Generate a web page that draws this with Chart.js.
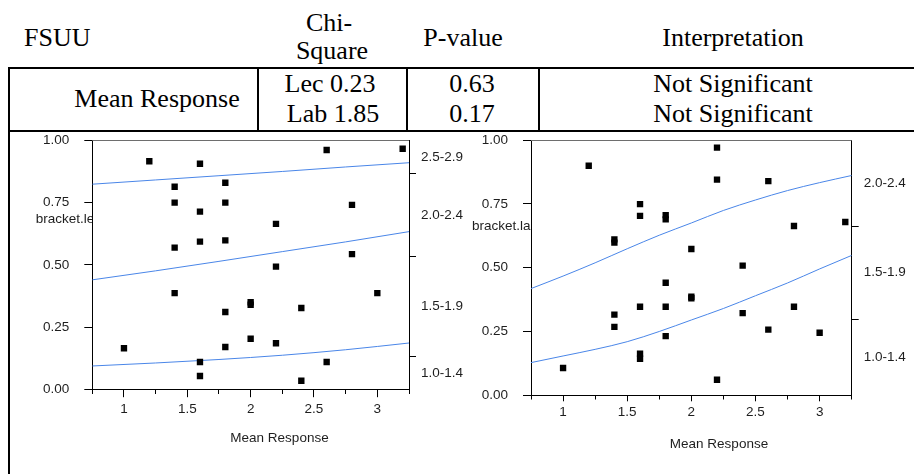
<!DOCTYPE html>
<html>
<head>
<meta charset="utf-8">
<script src="https://cdn.jsdelivr.net/npm/chart.js@4"></script>
<style>
  html, body { margin: 0; padding: 0; background: #fff; }
  body { width: 914px; height: 474px; position: relative; overflow: hidden; }
  .t { position: absolute; font: 26px "Liberation Serif", "Times New Roman", serif; line-height: 30px; color: #000; white-space: nowrap; }
  .c { width: 240px; text-align: center; }
  .ln { position: absolute; background: #000; }
  canvas { position: absolute; }
</style>
</head>
<body>
  <div class="t" style="left:24px; top:23px;">FSUU</div>
  <div class="t c" style="left:209px; top:8px;">Chi-</div>
  <div class="t c" style="left:212px; top:36px;">Square</div>
  <div class="t c" style="left:343px; top:23px;">P-value</div>
  <div class="t c" style="left:613px; top:23px;">Interpretation</div>

  <div class="t c" style="left:37px; top:84px;">Mean Response</div>
  <div class="t c" style="left:210px; top:69px;">Lec 0.23</div>
  <div class="t c" style="left:213px; top:99px;">Lab 1.85</div>
  <div class="t c" style="left:352px; top:69px;">0.63</div>
  <div class="t c" style="left:352px; top:99px;">0.17</div>
  <div class="t c" style="left:613px; top:69px;">Not Significant</div>
  <div class="t c" style="left:613px; top:99px;">Not Significant</div>

  <div class="ln" style="left:8px; top:67px; width:920px; height:2px;"></div>
  <div class="ln" style="left:8px; top:130px; width:920px; height:2px;"></div>
  <div class="ln" style="left:8px; top:67px; width:2px; height:407px;"></div>
  <div class="ln" style="left:257px; top:67px; width:2px; height:65px;"></div>
  <div class="ln" style="left:406px; top:67px; width:2px; height:65px;"></div>
  <div class="ln" style="left:538px; top:67px; width:2px; height:65px;"></div>

  <canvas id="lec-chart" width="462" height="342" style="left:10px; top:132px;"></canvas>
  <canvas id="lab-chart" width="459" height="342" style="left:455px; top:132px;"></canvas>

<script>
// lecture panel: observed points (mean response, proportion)
const lecX = [1.2, 1.6, 1.4, 1.8, 1.4, 1.8, 1.6, 2.2, 2.8, 2.6, 3.2, 1.4, 1.6, 1.8, 2.8,
              2.2, 1.4, 3.0, 2.0, 2.0, 1.8, 2.4, 2.0, 2.2, 1.8, 1.0, 1.6, 2.6, 1.6, 2.4];
const lecY = [0.915, 0.905, 0.813, 0.829, 0.749, 0.749, 0.713, 0.664, 0.740, 0.960, 0.965, 0.569, 0.593, 0.598, 0.543,
              0.493, 0.387, 0.387, 0.350, 0.340, 0.311, 0.327, 0.204, 0.186, 0.171, 0.166, 0.111, 0.111, 0.055, 0.036];
// lecture panel: fitted cumulative curves
const lecCurveX = [0.75, 1.25, 1.75, 2.25, 2.75, 3.25];
const lecCurveTop = [0.823, 0.840, 0.857, 0.874, 0.892, 0.909];
const lecCurveMid = [0.440, 0.476, 0.514, 0.553, 0.592, 0.633];
const lecCurveLow = [0.095, 0.107, 0.121, 0.138, 0.160, 0.187];
const lecCuts = [0.132, 0.533, 0.865];
const lecBands = ["1.0-1.4", "1.5-1.9", "2.0-2.4", "2.5-2.9"];

// lab panel: observed points
const labX = [1.2, 2.2, 2.2, 2.6, 1.6, 1.6, 1.8, 1.8, 2.8, 3.2, 1.4, 1.4, 2.0, 2.4, 1.8,
              2.0, 2.0, 1.4, 1.6, 1.8, 2.4, 2.8, 1.4, 2.6, 3.0, 1.8, 1.6, 1.6, 1.0, 2.2];
const labY = [0.899, 0.970, 0.845, 0.839, 0.749, 0.703, 0.706, 0.689, 0.663, 0.679, 0.611, 0.598, 0.573, 0.508, 0.441,
              0.386, 0.380, 0.316, 0.347, 0.347, 0.322, 0.347, 0.268, 0.257, 0.245, 0.232, 0.163, 0.143, 0.107, 0.061];
// lab panel: fitted cumulative curves
const labCurveX = [0.75, 1.0, 1.25, 1.5, 1.75, 2.0, 2.25, 2.5, 2.75, 3.0, 3.25];
const labCurveTop = [0.418, 0.467, 0.519, 0.574, 0.627, 0.675, 0.724, 0.765, 0.802, 0.833, 0.861];
const labCurveLow = [0.128, 0.154, 0.180, 0.210, 0.250, 0.295, 0.340, 0.390, 0.440, 0.495, 0.548];
const labCuts = [0.298, 0.663];
const labBands = ["1.0-1.4", "1.5-1.9", "2.0-2.4"];

const BLUE = "rgb(74, 134, 232)";
const TEXT = "#1e1e1e";
const FONT = '13.5px "Liberation Sans", Arial, sans-serif';

Chart.defaults.font.family = '"Liberation Sans", Arial, sans-serif';
Chart.defaults.font.size = 13.5;
Chart.defaults.color = TEXT;

// horizontal y-axis title cut off at the plot edge, x-axis title, grey top frame
const panelText = {
    id: "panelText",
    afterDraw(chart, args, opts) {
        const { ctx, chartArea } = chart;
        ctx.save();
        ctx.font = FONT;
        ctx.fillStyle = TEXT;
        ctx.textBaseline = "middle";
        ctx.textAlign = "center";
        ctx.fillText("Mean Response", opts.xTitleX, opts.xTitleY);
        ctx.beginPath();
        ctx.rect(0, 0, chartArea.left, chart.height);
        ctx.clip();
        ctx.textAlign = "left";
        ctx.fillText(opts.text, opts.x, opts.y);
        ctx.restore();

        ctx.save();
        ctx.strokeStyle = "#6e6e6e";
        ctx.lineWidth = 1;
        ctx.beginPath();
        ctx.moveTo(chartArea.left, chartArea.top + 0.5);
        ctx.lineTo(chartArea.right, chartArea.top + 0.5);
        ctx.stroke();
        ctx.restore();
    },
};

function renderPanel(canvas, xs, ys, curveX, curves, cuts, bands, geo) {
    const datasets = [
        {
            data: xs.map((x, i) => ({ x: x, y: ys[i] })),
            pointStyle: "rect",
            pointRadius: 4.5,
            pointHoverRadius: 4.5,
            backgroundColor: "#000",
            borderColor: "#000",
            borderWidth: 0,
            showLine: false,
            order: 0,
        },
    ];
    curves.forEach((c) => {
        datasets.push({
            data: curveX.map((x, i) => ({ x: x, y: c[i] })),
            showLine: true,
            borderColor: BLUE,
            borderWidth: 1,
            pointRadius: 0,
            cubicInterpolationMode: "monotone",
            order: 1,
        });
    });

    // right axis: tick marks at the cut points, band labels between them
    const edges = [0].concat(cuts, [1]);
    const rightTicks = [];
    bands.forEach((b, i) => {
        rightTicks.push({ value: (edges[i] + edges[i + 1]) / 2, label: b, mark: false });
        if (i < cuts.length) rightTicks.push({ value: cuts[i], label: "", mark: true });
    });

    const isMajor = (v) => Math.round(Number(v.toFixed(2)) * 4) % 2 === 0;

    new Chart(canvas.getContext("2d"), {
        type: "scatter",
        data: { datasets: datasets },
        plugins: [panelText],
        options: {
            responsive: false,
            animation: false,
            layout: { padding: { top: geo.top, left: 0, right: 0, bottom: 0 } },
            plugins: {
                legend: { display: false },
                tooltip: { enabled: false },
                panelText: {
                    text: geo.title, x: geo.titleX, y: geo.titleY,
                    xTitleX: geo.xTitleX, xTitleY: geo.xTitleY,
                },
            },
            scales: {
                x: {
                    type: "linear",
                    min: 0.75,
                    max: 3.25,
                    afterFit: (s) => { s.height = geo.bottom; s.paddingLeft = 0; s.paddingRight = 0; },
                    border: { color: "#000", width: 1 },
                    grid: {
                        drawOnChartArea: false,
                        tickLength: geo.xTick,
                        color: "#000",
                        tickBorderDash: (c) => (c.tick && isMajor(c.tick.value) ? [] : [geo.xMinor, 40]),
                    },
                    ticks: {
                        stepSize: 0.25,
                        autoSkip: false,
                        maxRotation: 0,
                        padding: geo.xPad,
                        callback: (v) => (isMajor(v) ? String(Number(v.toFixed(2))) : ""),
                    },
                },
                y: {
                    type: "linear",
                    position: "left",
                    min: 0,
                    max: 1,
                    afterFit: (s) => { s.width = geo.left; s.paddingTop = 0; s.paddingBottom = 0; },
                    border: { color: "#000", width: 1 },
                    grid: { drawOnChartArea: false, tickLength: 8, color: "#000" },
                    ticks: { stepSize: 0.25, padding: 15, callback: (v) => v.toFixed(2) },
                },
                y2: {
                    type: "linear",
                    position: "right",
                    min: 0,
                    max: 1,
                    afterFit: (s) => { s.width = geo.right; s.paddingTop = 0; s.paddingBottom = 0; },
                    afterBuildTicks: (s) => { s.ticks = rightTicks.map((t) => ({ value: t.value })); },
                    border: { color: "#000", width: 1 },
                    grid: {
                        drawOnChartArea: false,
                        tickLength: 7,
                        tickColor: (c) => (rightTicks[c.index] && rightTicks[c.index].mark ? "#000" : "rgba(0,0,0,0)"),
                    },
                    ticks: {
                        autoSkip: false,
                        padding: 5,
                        callback: (v, i) => (rightTicks[i] ? rightTicks[i].label : ""),
                    },
                },
            },
        },
    });
}

renderPanel(document.getElementById("lec-chart"), lecX, lecY, lecCurveX,
    [lecCurveTop, lecCurveMid, lecCurveLow], lecCuts, lecBands,
    { top: 8, left: 82.3, right: 63, bottom: 84.3, xTick: 7.5, xMinor: 4, xPad: 3.5,
      title: "bracket.lec", titleX: 25.7, titleY: 87, xTitleX: 269.5, xTitleY: 306 });

renderPanel(document.getElementById("lab-chart"), labX, labY, labCurveX,
    [labCurveTop, labCurveLow], labCuts, labBands,
    { top: 8, left: 76, right: 62.3, bottom: 78.7, xTick: 6, xMinor: 3.5, xPad: 3,
      title: "bracket.lab", titleX: 17, titleY: 94, xTitleX: 264, xTitleY: 312.3 });
</script>
</body>
</html>
